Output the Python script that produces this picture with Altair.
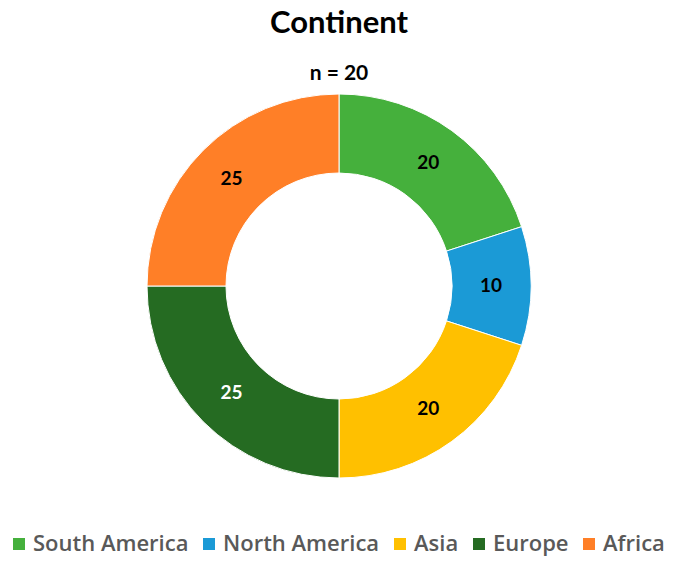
import altair as alt
import pandas as pd

categories = ["South America", "North America", "Asia", "Europe", "Africa"]
values = [20, 10, 20, 25, 25]
colors = ["#45B03C", "#1B9AD6", "#FFC000", "#256B22", "#FF7F27"]
label_colors = ["#000000", "#000000", "#000000", "#FFFFFF", "#000000"]
title_text = "Continent"
subtitle_text = "n = 20"

df = pd.DataFrame({
    "Continent": categories,
    "value": values,
    "order": list(range(len(categories))),
    "label_color": label_colors,
})

CX, CY = 331, 277

base = alt.Chart(df).encode(
    theta=alt.Theta("value:Q", stack=True),
    order=alt.Order("order:Q"),
)

arcs = base.mark_arc(innerRadius=113, outerRadius=192, stroke="white", strokeWidth=1).encode(
    x=alt.value(CX),
    y=alt.value(CY),
    color=alt.Color(
        "Continent:N",
        sort=categories,
        scale=alt.Scale(domain=categories, range=colors),
        legend=alt.Legend(
            title=None,
            orient="none",
            direction="horizontal",
            columns=5,
            legendX=0,
            legendY=524,
            symbolType="square",
            symbolSize=144,
            symbolStrokeWidth=0,
            labelFont="Open Sans",
            labelFontSize=22,
            labelFontWeight=600,
            labelColor="#595959",
            labelOffset=3,
            labelLimit=400,
            columnPadding=9,
        ),
    ),
)

labels = base.mark_text(radius=152, font="Lato", fontSize=19, fontWeight="bold").encode(
    x=alt.value(CX),
    y=alt.value(CY),
    text=alt.Text("value:Q"),
    color=alt.Color("label_color:N", scale=None),
)

title = alt.Chart(pd.DataFrame({"t": [title_text]})).mark_text(
    font="Lato", fontSize=31, fontWeight="bold", color="#000000", baseline="alphabetic", align="center"
).encode(text="t:N", x=alt.value(CX), y=alt.value(24))

subtitle = alt.Chart(pd.DataFrame({"t": [subtitle_text]})).mark_text(
    font="Lato", fontSize=21, fontWeight="bold", color="#000000", baseline="alphabetic", align="center"
).encode(text="t:N", x=alt.value(CX), y=alt.value(71))

chart = alt.layer(arcs, labels, title, subtitle).properties(
    width=640, height=530, padding={"left": 0, "top": 0, "right": 0, "bottom": 6}
).configure_view(stroke=None)

chart.save("out.html", embed_options={"renderer": "svg", "actions": False})
